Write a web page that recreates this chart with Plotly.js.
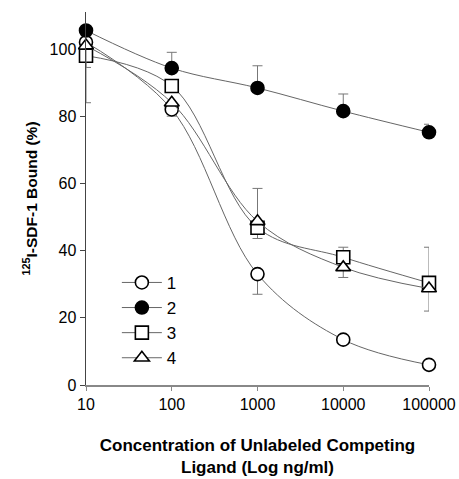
<!DOCTYPE html>
<html>
<head>
<meta charset="utf-8">
<script src="https://cdn.plot.ly/plotly-3.0.1.min.js"></script>
<style>html,body{margin:0;padding:0;background:#fff;}#chart{width:459px;height:479px;}</style>
</head>
<body>
<div id="chart"></div>
<script>
const conc = [10, 100, 1000, 10000, 100000];
const s1 = [102, 82, 33, 13.5, 6];
const s1Up = [0, 0, 0, 0, 0];
const s1Down = [0, 2, 6, 0, 0];
const s2 = [105.5, 94.3, 88.4, 81.5, 75.2];
const s2Up = [0, 4.7, 6.6, 5.1, 2.4];
const s2Down = [0, 0, 0, 0, 0];
const s3 = [98, 89, 46.8, 38, 30.4];
const s3Up = [0, 0, 0, 3, 10.6];
const s3Down = [3.5, 0, 3.2, 0, 0];
const s4 = [101, 84, 48.7, 35, 28.7];
const s4Up = [0, 0, 9.8, 0, 0];
const s4Down = [17, 0, 0, 3, 6.7];
const names = ['1', '2', '3', '4'];

function tr(name, y, up, down, symbol, fill) {
  return {
    x: conc, y: y, name: name, type: 'scatter', mode: 'lines+markers',
    cliponaxis: false,
    line: {color: '#666', width: 1, shape: 'spline', smoothing: 1},
    marker: {symbol: symbol, size: 13, color: fill, line: {color: '#000', width: 1.6}},
    error_y: {type: 'data', symmetric: false, array: up, arrayminus: down,
              color: '#777', thickness: 1, width: 5}
  };
}

const data = [
  tr(names[0], s1, s1Up, s1Down, 'circle', '#fff'),
  tr(names[1], s2, s2Up, s2Down, 'circle', '#000'),
  tr(names[2], s3, s3Up, s3Down, 'square', '#fff'),
  tr(names[3], s4, s4Up, s4Down, 'triangle-up', '#fff')
];

const layout = {
  width: 459, height: 479,
  margin: {l: 86, r: 30, t: 12, b: 94},
  paper_bgcolor: '#fff', plot_bgcolor: '#fff',
  font: {family: 'Liberation Sans, Arial, sans-serif', color: '#000', size: 16},
  showlegend: true,
  legend: {x: 0.09, y: 0.322, xanchor: 'left', yanchor: 'top', itemwidth: 40,
           bgcolor: 'rgba(0,0,0,0)', font: {size: 17}, tracegroupgap: 0},
  xaxis: {
    type: 'log', range: [1, 5],
    tickvals: conc, ticktext: ['10', '100', '1000', '10000', '100000'],
    showgrid: false, zeroline: false, showline: true, linecolor: '#888', linewidth: 1.5,
    ticks: 'outside', ticklen: 4, tickcolor: '#888',
    tickfont: {size: 16},
    title: {text: '<b>Concentration of Unlabeled Competing<br>Ligand (Log ng/ml)</b>',
            font: {size: 17, family: 'Liberation Sans, Arial, sans-serif'}, standoff: 27}
  },
  yaxis: {
    range: [0, 111],
    tickvals: [0, 20, 40, 60, 80, 100],
    showgrid: false, zeroline: false, showline: true, linecolor: '#444', linewidth: 1.5,
    ticks: 'outside', ticklen: 5, tickcolor: '#444',
    tickfont: {size: 16},
    title: {text: '<b><sup>125</sup>I-SDF-1 Bound (%)</b>',
            font: {size: 15.5, family: 'Liberation Sans, Arial, sans-serif'}, standoff: 8}
  }
};

Plotly.newPlot('chart', data, layout, {displayModeBar: false, staticPlot: true});
</script>
</body>
</html>
